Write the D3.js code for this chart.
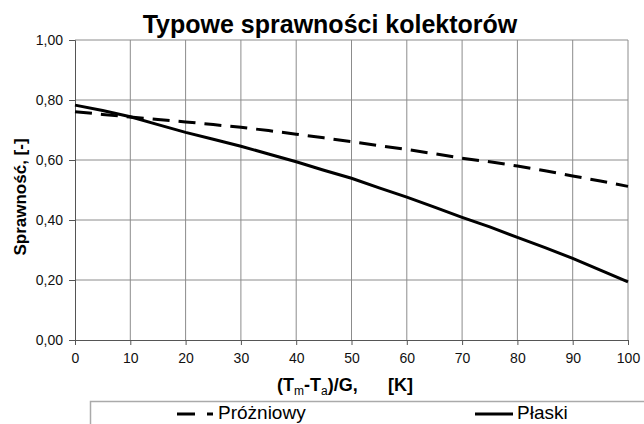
<!DOCTYPE html>
<html>
<head>
<meta charset="utf-8">
<script src="https://cdn.jsdelivr.net/npm/d3@7"></script>
<style>
body { margin: 0; background: #fff; }
svg { display: block; font-family: "Liberation Sans", Arial, sans-serif; }
</style>
</head>
<body>
<div class="chart"></div>
<script>
// x values (Tm-Ta)/G, K
let xValues = [0, 5, 10, 15, 20, 25, 30, 35, 40, 45, 50, 55, 60, 65, 70, 75, 80, 85, 90, 95, 100];
let prozniowy = [0.761, 0.752, 0.743, 0.735, 0.727, 0.718, 0.709, 0.698, 0.686, 0.674, 0.661,
    0.648, 0.635, 0.621, 0.606, 0.594, 0.580, 0.564, 0.547, 0.530, 0.512];
let plaski = [0.783, 0.765, 0.744, 0.718, 0.692, 0.669, 0.646, 0.620, 0.594, 0.566, 0.539,
    0.507, 0.476, 0.443, 0.409, 0.377, 0.342, 0.308, 0.272, 0.233, 0.194];
let xTicks = [0, 10, 20, 30, 40, 50, 60, 70, 80, 90, 100];
let yTicks = [0, 0.2, 0.4, 0.6, 0.8, 1.0];
let seriesNames = ['Próżniowy', 'Płaski'];

function drawChart() {
    let margin = {top: 40, right: 16, bottom: 84, left: 75};
    let svg = d3.select('.chart')
        .append('svg')
        .attr('width', 644)
        .attr('height', 424);
    let width = 644 - margin.left - margin.right;
    let height = 424 - margin.top - margin.bottom;

    let x = d3.scaleLinear().domain([0, 100]).range([0, width]);
    let y = d3.scaleLinear().domain([0, 1]).range([height, 0]);
    let fmt = d => d3.format('.2f')(d).replace('.', ',');

    svg.append('text')
        .attr('x', 330)
        .attr('y', 33)
        .attr('text-anchor', 'middle')
        .style('font-size', '25px')
        .style('font-weight', 'bold')
        .text('Typowe sprawności kolektorów');

    let g = svg.append('g')
        .attr('transform', 'translate(' + margin.left + ',' + margin.top + ')');

    // grid
    g.selectAll('.vgrid')
        .data(xTicks.slice(1))
        .enter().append('line')
        .attr('class', 'vgrid')
        .attr('x1', d => x(d)).attr('x2', d => x(d))
        .attr('y1', 0).attr('y2', height)
        .attr('stroke', '#8c8c8c').attr('stroke-width', 1);
    g.selectAll('.hgrid')
        .data(yTicks.slice(1))
        .enter().append('line')
        .attr('class', 'hgrid')
        .attr('x1', 0).attr('x2', width)
        .attr('y1', d => y(d)).attr('y2', d => y(d))
        .attr('stroke', '#8c8c8c').attr('stroke-width', 1);

    // axes
    let xAxis = g.append('g')
        .attr('transform', 'translate(0,' + height + ')')
        .call(d3.axisBottom(x).tickValues(xTicks).tickSize(5).tickPadding(8).tickFormat(d3.format('d')));
    let yAxis = g.append('g')
        .call(d3.axisLeft(y).tickValues(yTicks).tickSize(6).tickPadding(6).tickFormat(fmt));
    [xAxis, yAxis].forEach(a => {
        a.select('.domain').attr('stroke', '#555');
        a.selectAll('.tick line').attr('stroke', '#555');
        a.selectAll('.tick text')
            .attr('fill', '#111')
            .style('font-size', '14px')
            .style('font-family', '"Liberation Sans", Arial, sans-serif');
    });

    // lines
    let line = d3.line()
        .x(d => x(d[0]))
        .y(d => y(d[1]));
    g.append('path')
        .datum(xValues.map((v, i) => [v, prozniowy[i]]))
        .attr('fill', 'none')
        .attr('stroke', '#000')
        .attr('stroke-width', 3)
        .attr('stroke-dasharray', '17,9')
        .attr('d', line);
    g.append('path')
        .datum(xValues.map((v, i) => [v, plaski[i]]))
        .attr('fill', 'none')
        .attr('stroke', '#000')
        .attr('stroke-width', 3)
        .attr('d', line);

    // axis titles
    let xt = svg.append('text')
        .attr('x', 277)
        .attr('y', 391)
        .style('font-size', '18px')
        .style('font-weight', 'bold');
    xt.append('tspan').text('(T');
    xt.append('tspan').attr('dy', 4).style('font-size', '12px').style('font-weight', 'normal').text('m');
    xt.append('tspan').attr('dy', -4).text('-T');
    xt.append('tspan').attr('dy', 4).style('font-size', '12px').style('font-weight', 'normal').text('a');
    xt.append('tspan').attr('dy', -4).text(')/G,');
    svg.append('text')
        .attr('x', 388)
        .attr('y', 391)
        .style('font-size', '18px')
        .style('font-weight', 'bold')
        .text('[K]');

    svg.append('text')
        .attr('transform', 'translate(26,' + 197 + ') rotate(-90)')
        .attr('text-anchor', 'middle')
        .style('font-size', '17px')
        .style('font-weight', 'bold')
        .text('Sprawność, [-]');

    // legend
    svg.append('rect')
        .attr('x', 90.5)
        .attr('y', 401.5)
        .attr('width', 600)
        .attr('height', 40)
        .attr('fill', '#fff')
        .attr('stroke', '#aaa')
        .attr('stroke-width', 1.5);
    let leg = svg.append('g');
    leg.append('line')
        .attr('x1', 177).attr('x2', 213).attr('y1', 414).attr('y2', 414)
        .attr('stroke', '#000').attr('stroke-width', 3)
        .attr('stroke-dasharray', '18,12,6');
    leg.append('text')
        .attr('x', 218).attr('y', 419)
        .style('font-size', '19px')
        .text(seriesNames[0]);
    leg.append('line')
        .attr('x1', 475).attr('x2', 513).attr('y1', 414).attr('y2', 414)
        .attr('stroke', '#000').attr('stroke-width', 3);
    leg.append('text')
        .attr('x', 517).attr('y', 419)
        .style('font-size', '19px')
        .text(seriesNames[1]);
}

drawChart();
</script>
</body>
</html>
